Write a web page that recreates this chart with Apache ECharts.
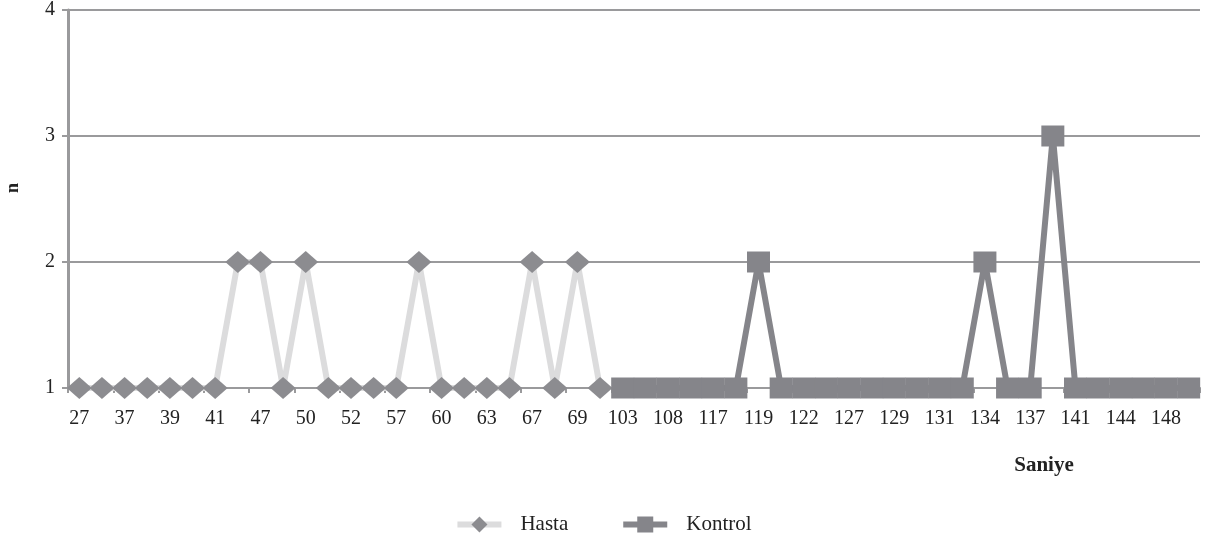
<!DOCTYPE html>
<html><head><meta charset="utf-8">
<script src="https://cdn.jsdelivr.net/npm/echarts@6/dist/echarts.min.js"></script>
<style>html,body{margin:0;padding:0;background:#fff}#c{width:1206px;height:538px}</style>
</head><body><div id="c"></div>
<script>
const categories = ['27','33','37','38','39','40','41','45','47','48','50','51','52','55','57','58','60','62','63','65','67','68','69','70','103','105','108','110','117','118','119','120','122','125','127','128','129','130','131','133','134','136','137','139','141','143','144','146','148','150'];
const hasta = [1,1,1,1,1,1,1,2,2,1,2,1,1,1,1,2,1,1,1,1,2,1,2,1,null,null,null,null,null,null,null,null,null,null,null,null,null,null,null,null,null,null,null,null,null,null,null,null,null,null];
const kontrol = [null,null,null,null,null,null,null,null,null,null,null,null,null,null,null,null,null,null,null,null,null,null,null,null,1,1,1,1,1,1,2,1,1,1,1,1,1,1,1,1,2,1,1,3,1,1,1,1,1,1];
const yTicks = [1,2,3,4];

const font = 'Liberation Serif';
const chart = echarts.init(document.getElementById('c'), null, {renderer:'canvas'});
chart.setOption({
  animation:false,
  backgroundColor:'#fff',
  textStyle:{fontFamily:font},
  grid:{left:68,right:6,top:10,bottom:150,containLabel:false,outerBoundsMode:'none'},
  xAxis:{
    type:'category', data:categories, boundaryGap:true,
    axisLine:{lineStyle:{color:'#9a9a9c',width:2}},
    axisTick:{show:true,length:5,interval:1,lineStyle:{color:'#9a9a9c',width:2}},
    axisLabel:{interval:1,color:'#222',fontSize:20,fontFamily:font,margin:21}
  },
  yAxis:{
    type:'value', min:yTicks[0], max:yTicks[yTicks.length-1], interval:1,
    axisLine:{show:true,lineStyle:{color:'#9a9a9c',width:3}},
    axisTick:{show:true,length:6,lineStyle:{color:'#9a9a9c',width:2}},
    axisLabel:{color:'#222',fontSize:20,fontFamily:font,margin:13},
    splitLine:{lineStyle:{color:'#9a9a9c',width:2}}
  },
  graphic:[
    {type:'text',x:1044,y:466,style:{text:'Saniye',font:'bold 21px "Liberation Serif"',fill:'#222',align:'center',verticalAlign:'middle'}},
    {type:'text',x:13,y:188,rotation:Math.PI/2,style:{text:'n',font:'bold 18px "Liberation Serif"',fill:'#222',align:'center',verticalAlign:'middle'}}
  ],
  legend:{
    top:509, left:'center', itemGap:52, itemWidth:44, itemHeight:20,
    textStyle:{fontSize:21,color:'#222',fontFamily:font,padding:[0,0,0,14]},
    lineStyle:{width:6},
    data:['Hasta','Kontrol']
  },
  series:[
    {name:'Hasta',type:'line',data:hasta,symbol:'diamond',symbolSize:[25,22],showAllSymbol:true,
     lineStyle:{color:'#dcdcdd',width:6},itemStyle:{color:'#8c8c90'},connectNulls:false},
    {name:'Kontrol',type:'line',data:kontrol,symbol:'rect',symbolSize:[23,21],showAllSymbol:true,
     lineStyle:{color:'#85858a',width:6},itemStyle:{color:'#85858a'},connectNulls:false}
  ]
});
</script></body></html>
